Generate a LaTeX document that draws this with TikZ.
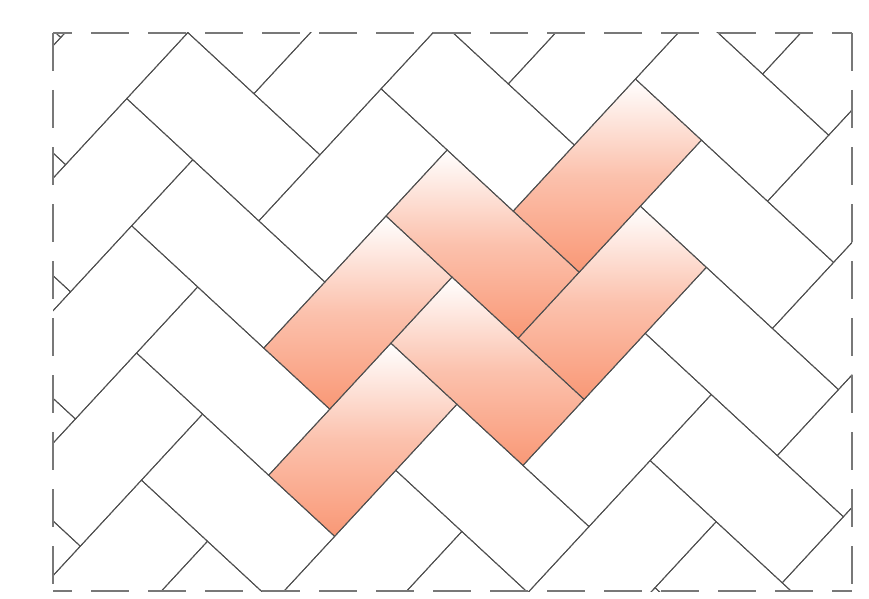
\documentclass[tikz,border=0pt]{standalone}
\definecolor{salmon}{RGB}{249,152,118}
\definecolor{tileline}{RGB}{80,80,80}
\definecolor{frameline}{RGB}{120,120,120}
\tikzset{
  tile/.style={draw=tileline, line width=0.8pt, line join=miter},
  hl/.style={top color=white, bottom color=salmon, middle color=salmon!60!white},
  frame/.style={draw=frameline, line width=1.1pt, dash pattern=on 1.14cm off 0.57cm}
}
\begin{document}
\begin{tikzpicture}[x=0.03cm, y=-0.03cm]
\useasboundingbox (0,0) rectangle (869,599);
\begin{scope}
  \clip (53,33) rectangle (852,591);
  \begin{scope}[shift={(386,216)}, x={(1.834cm,1.981cm)}, y={(1.981cm,-1.834cm)}]
    % highlighted bricks
    \shade[hl] (1,1) -- (3,1) -- (3,2) -- (1,2) -- cycle;
    \shade[hl] (0,2) -- (2,2) -- (2,3) -- (0,3) -- cycle;
    \shade[hl] (-2,0) -- (0,0) -- (0,1) -- (-2,1) -- cycle;
    \shade[hl] (-3,1) -- (-1,1) -- (-1,2) -- (-3,2) -- cycle;
    \shade[hl] (0,0) -- (1,0) -- (1,2) -- (0,2) -- cycle;
    \shade[hl] (-1,1) -- (0,1) -- (0,3) -- (-1,3) -- cycle;
    % herringbone outlines
    \foreach \a in {-9,...,8} {
      \foreach \b in {-5,...,4} {
        \pgfmathsetmacro\tp{\a+2*\b}
        \pgfmathsetmacro\tq{2*\b-\a}
        \begin{scope}[shift={(\tp,\tq)}]
          \draw[tile] (1,1) -- (3,1) -- (3,2) -- (1,2) -- cycle;
          \draw[tile] (0,0) -- (1,0) -- (1,2) -- (0,2) -- cycle;
        \end{scope}
      }
    }
  \end{scope}
\end{scope}
% dashed frame
\coordinate (tl) at (53,33);
\coordinate (tr) at (852,33);
\coordinate (bl) at (53,591);
\coordinate (br) at (852,591);
\draw[frame] (tl) -- (bl);
\draw[frame] (tr) -- (br);
\draw[frame, dash phase=0.57cm] (tl) -- (tr);
\draw[frame, dash phase=0.57cm] (bl) -- (br);
\end{tikzpicture}
\end{document}
